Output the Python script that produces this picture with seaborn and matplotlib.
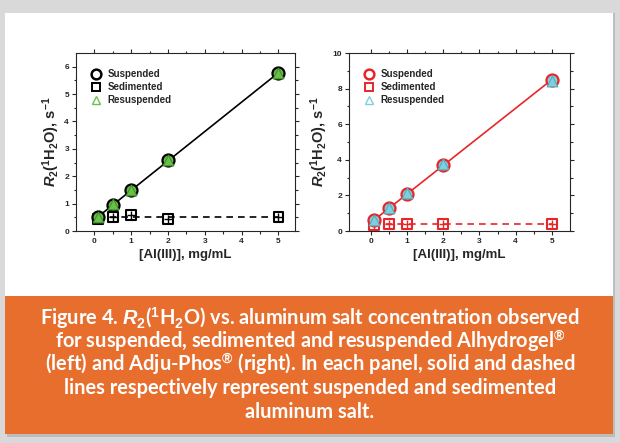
import numpy as np
import pandas as pd
import matplotlib
matplotlib.use("Agg")
import matplotlib.pyplot as plt
from matplotlib.patches import Rectangle
from matplotlib.lines import Line2D
import seaborn as sns

# ---- data ----
conc = [0.1, 0.5, 1.0, 2.0, 5.0]
alhy_suspended = [0.50, 0.95, 1.50, 2.58, 5.77]
alhy_sedimented = [0.45, 0.52, 0.57, 0.45, 0.50]
alhy_resuspended = [0.50, 0.97, 1.50, 2.60, 5.78]
adju_suspended = [0.60, 1.28, 2.10, 3.68, 8.50]
adju_sedimented = [0.35, 0.40, 0.40, 0.40, 0.40]
adju_resuspended = [0.62, 1.30, 2.15, 3.75, 8.40]
series_labels = ["Suspended", "Sedimented", "Resuspended"]
x_ticks = [0, 1, 2, 3, 4, 5]
left_yticks = [0, 1, 2, 3, 4, 5, 6]
right_yticks = [0, 2, 4, 6, 8, 10]
xlabel = "[Al(III)], mg/mL"
ylabel = r"$R_2$($^1$H$_2$O), s$^{-1}$"
caption_lines = [
    "Figure 4. $R_2$($^1$H$_2$O) vs. aluminum salt concentration observed",
    "for suspended, sedimented and resuspended Alhydrogel$^{®}$",
    "(left) and Adju-Phos$^{®}$ (right). In each panel, solid and dashed",
    "lines respectively represent suspended and sedimented",
    "aluminum salt.",
]

sns.set_style("ticks")
plt.rcParams["font.family"] = ["Liberation Sans", "DejaVu Sans"]
plt.rcParams["font.weight"] = "bold"
plt.rcParams["mathtext.fontset"] = "custom"
plt.rcParams["mathtext.rm"] = "Liberation Sans:bold"
plt.rcParams["mathtext.it"] = "Liberation Sans:italic:bold"
plt.rcParams["mathtext.bf"] = "Liberation Sans:bold"

fig = plt.figure(figsize=(6.2, 4.43), dpi=100)
fig.patch.set_facecolor("#d9d9d9")
# card shadow + card
fig.add_artist(Rectangle((7/620, 1-437/443), 608/620, 424/443, transform=fig.transFigure,
                         facecolor="#bdbdbd", edgecolor="none", zorder=-3))
fig.add_artist(Rectangle((5/620, 1-434/443), 608/620, 421/443, transform=fig.transFigure,
                         facecolor="white", edgecolor="none", zorder=-2))
fig.add_artist(Rectangle((5/620, 1-434/443), 608/620, 138/443, transform=fig.transFigure,
                         facecolor="#e86e2e", edgecolor="none", zorder=-1))


def panel(ax, susp, sed, resusp, main_color, tri_fill, tri_edge, yticks, ylim, xlim):
    df = pd.DataFrame({"x": conc, "susp": susp, "sed": sed, "resusp": resusp})
    # fit lines
    k, b = np.polyfit(conc, susp, 1)
    fit = pd.DataFrame({"x": [conc[0], conc[-1]]})
    fit["y"] = k * fit["x"] + b
    sed_line = pd.DataFrame({"x": [conc[0], conc[-1]], "y": [np.mean(sed)] * 2})
    sns.lineplot(data=fit, x="x", y="y", ax=ax, color=main_color, lw=1.2, zorder=1)
    sns.lineplot(data=sed_line, x="x", y="y", ax=ax, color=main_color, lw=1.2,
                 zorder=1, linestyle=(0, (4, 3)))
    sns.scatterplot(data=df, x="x", y="sed", ax=ax, marker="s", s=50,
                    facecolor="none", edgecolor=main_color, linewidth=1.5, zorder=3)
    sns.scatterplot(data=df, x="x", y="sed", ax=ax, marker="+", s=32,
                    color=main_color, linewidth=1.0, zorder=3)
    sns.scatterplot(data=df, x="x", y="susp", ax=ax, marker="o", s=75,
                    facecolor=tri_fill, edgecolor=main_color, linewidth=1.6, zorder=4)
    sns.scatterplot(data=df, x="x", y="resusp", ax=ax, marker="^", s=60,
                    facecolor=tri_fill, edgecolor=tri_edge, linewidth=0.8, zorder=5)
    ax.set_xlim(*xlim)
    ax.set_ylim(*ylim)
    ax.set_xticks(x_ticks)
    ax.set_yticks(yticks)
    ax.set_xticks(np.arange(0.5, 5.5, 1), minor=True)
    ystep = yticks[1] - yticks[0]
    ax.set_yticks(np.arange(ystep / 2, ylim[1], ystep), minor=True)
    ax.tick_params(which="both", direction="out", top=True, right=True,
                   labeltop=False, labelright=False, width=0.8, labelsize=6, pad=2)
    ax.tick_params(which="major", length=3)
    ax.tick_params(which="minor", length=1.8)
    for sp in ax.spines.values():
        sp.set_visible(True)
        sp.set_linewidth(0.8)
    ax.set_xlabel(xlabel, fontsize=9.5, fontweight="bold", labelpad=3)
    ax.set_ylabel(ylabel, fontsize=10.5, fontweight="bold", labelpad=2)
    for t in ax.get_xticklabels() + ax.get_yticklabels():
        t.set_fontweight("bold")
    handles = [
        Line2D([], [], marker="o", ls="none", ms=7, mfc="none", mec=main_color, mew=1.8),
        Line2D([], [], marker="s", ls="none", ms=6, mfc="none", mec=main_color, mew=1.4),
        Line2D([], [], marker="^", ls="none", ms=6, mfc="none", mec=tri_fill, mew=1.0),
    ]
    leg = ax.legend(handles, series_labels, loc="upper left", frameon=False,
                    fontsize=7, handlelength=1.0, handletextpad=0.7,
                    labelspacing=0.3, borderaxespad=0.0, bbox_to_anchor=(0.05, 0.93))
    for t in leg.get_texts():
        t.set_fontweight("bold")


ax1 = fig.add_axes([76/620, 1-231/443, 219/620, 178/443])
ax2 = fig.add_axes([349/620, 1-231/443, 221/620, 178/443])
panel(ax1, alhy_suspended, alhy_sedimented, alhy_resuspended,
      "black", "#6abf4b", "#3f8f2a", left_yticks, (0, 6.5), (-0.5, 5.45))
panel(ax2, adju_suspended, adju_sedimented, adju_resuspended,
      "#e8262a", "#7fcfdc", "#5aaabb", right_yticks, (0, 10), (-0.6, 5.5))

for i, line in enumerate(caption_lines):
    fig.text(310/620, 1-(318 + i*23.5)/443, line, ha="center", va="center", color="white",
             fontsize=14.4, family=["Lato", "DejaVu Sans"], fontweight="bold")

fig.savefig("out.png", dpi=100, facecolor=fig.get_facecolor())
